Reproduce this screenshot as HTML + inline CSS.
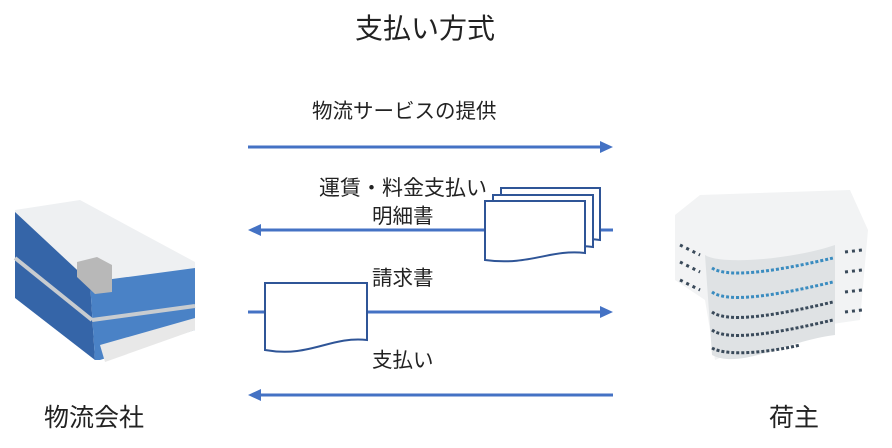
<!DOCTYPE html>
<html><head><meta charset="utf-8"><style>
body{margin:0;background:#fff;width:892px;height:448px;overflow:hidden;font-family:"Liberation Sans","Noto Sans CJK JP",sans-serif;color:#222}
.t{position:absolute;white-space:nowrap}
</style></head><body>
<div class="t" style="left:355px;top:7px;font-size:28px">支払い方式</div>
<div class="t" style="left:312px;top:94px;font-size:20.5px">物流サービスの提供</div>
<div class="t" style="left:319px;top:172px;font-size:21px">運賃・料金支払い</div>
<div class="t" style="left:372px;top:199px;font-size:20.5px">明細書</div>
<div class="t" style="left:372px;top:261px;font-size:20.5px">請求書</div>
<div class="t" style="left:372px;top:343px;font-size:20.5px">支払い</div>
<div class="t" style="left:44px;top:398px;font-size:25px">物流会社</div>
<div class="t" style="left:769px;top:398px;font-size:25px">荷主</div>
<svg width="892" height="448" style="position:absolute;left:0;top:0">
<g stroke="#4472c4" stroke-width="3" fill="#4472c4">
<line x1="248" y1="147" x2="602" y2="147"/><polygon points="613,147 600,141 600,153" stroke="none"/>
<line x1="259" y1="230" x2="613" y2="230"/><polygon points="248,230 261,224 261,236" stroke="none"/>
<line x1="248" y1="312" x2="602" y2="312"/><polygon points="613,312 600,306 600,318" stroke="none"/>
<line x1="259" y1="395" x2="613" y2="395"/><polygon points="248,395 261,389 261,401" stroke="none"/>
</g>
<g stroke="#2f5597" stroke-width="2" fill="#fff">
<path d="M501,188 H600 V240 C570,236 560,250 501,246 Z"/>
<path d="M493,195 H593 V247 C562,243 552,257 493,253 Z"/>
<path d="M485,201 H585 V253 C550,249 530,266 485,260 Z"/>
<path d="M265,283 H367 V340 C330,336 310,358 265,350 Z"/>
</g>
<!-- left building -->
<polygon points="15,210 80,200 195,262 195,272 90,282 15,225" fill="#eef0f2"/>
<polygon points="15,212 90,282 95,360 15,298" fill="#3565a8"/>
<polygon points="90,282 195,268 195,330 100,360 95,360" fill="#4a82c6"/>
<line x1="15" y1="258" x2="92" y2="320" stroke="#c8ccd0" stroke-width="4"/>
<line x1="92" y1="320" x2="195" y2="306" stroke="#c8ccd0" stroke-width="4"/>
<polygon points="77,262 97,257 112,265 112,292 95,294 77,277" fill="#b8b8b8"/>
<polygon points="100,345 195,318 195,330 105,362" fill="#e8e8e8"/>
<!-- right building -->
<polygon points="675,215 700,195 850,190 868,230 860,320 790,330 715,360 705,300 675,280" fill="#f2f3f4"/>
<path d="M705,255 C720,265 790,260 835,245 V335 C790,340 740,370 712,355 Z" fill="#dfe2e4"/>
<g stroke="#3a8cc0" stroke-width="3" stroke-dasharray="3 2" fill="none">
<path d="M712,268 C730,280 790,268 833,258"/>
<path d="M712,292 C730,305 790,292 833,282"/>
</g>
<g stroke="#3a4a5a" stroke-width="3" stroke-dasharray="3 2" fill="none">
<path d="M712,312 C730,325 790,312 833,302"/>
<path d="M712,330 C730,343 790,330 833,320"/>
<path d="M712,348 C730,358 780,350 800,345"/>
</g>
<g stroke="#3a4a5a" stroke-width="3" stroke-dasharray="3 4">
<line x1="680" y1="245" x2="700" y2="255"/><line x1="680" y1="262" x2="700" y2="272"/><line x1="680" y1="280" x2="700" y2="290"/>
<line x1="845" y1="252" x2="862" y2="250"/><line x1="845" y1="272" x2="862" y2="270"/><line x1="845" y1="292" x2="862" y2="290"/><line x1="845" y1="312" x2="862" y2="310"/>
</g>
</svg>
</body></html>
